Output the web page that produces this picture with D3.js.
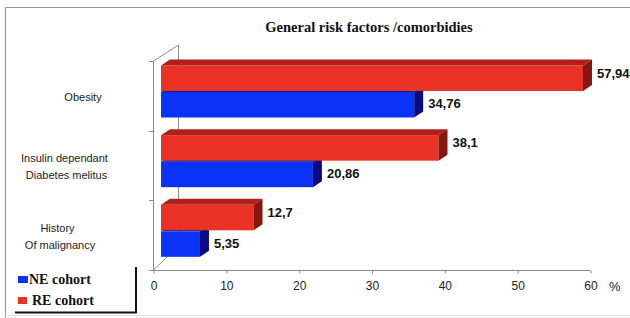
<!DOCTYPE html>
<html>
<head>
<meta charset="utf-8">
<script src="https://cdn.jsdelivr.net/npm/d3@7"></script>
<style>
  body { margin: 0; background: #fff; }
  svg { display: block; }
</style>
</head>
<body>
<script>
// chart data
var categories = ["Obesity", "Insulin", "History"];
var categoryLines = [["Obesity"], ["Insulin dependant", "Diabetes melitus"], ["History", "Of malignancy"]];
var reValues = [57.94, 38.1, 12.7];
var neValues = [34.76, 20.86, 5.35];
var reLabels = ["57,94", "38,1", "12,7"];
var neLabels = ["34,76", "20,86", "5,35"];
var tickValues = [0, 10, 20, 30, 40, 50, 60];
var legendNames = ["NE cohort", "RE cohort"];

var W = 630, H = 318;
var dx = 9, dy = 6, shift = 8, barH = 25.5;
var red = {front: "#ea3324", top: "#b0201a", side: "#861610"};
var blue = {front: "#0a32f5", top: "#0a1fa0", side: "#0a0a82"};

var svg = d3.select("body").append("svg")
    .attr("width", W)
    .attr("height", H);

// outer frame
svg.append("path")
   .attr("d", "M5.5,318 L5.5,7.5 L630,7.5")
   .attr("fill", "none")
   .attr("stroke", "#9a9a9a")
   .attr("stroke-width", 1.2);
svg.append("line")
   .attr("x1", 5).attr("x2", 630).attr("y1", 315.5).attr("y2", 315.5)
   .attr("stroke", "#e4e4e4");

// title
svg.append("text")
   .attr("x", 369).attr("y", 32)
   .attr("text-anchor", "middle")
   .style("font-family", "'Liberation Serif', 'Times New Roman', serif")
   .style("font-weight", "bold")
   .style("font-size", "14.5px")
   .attr("fill", "#111")
   .text("General risk factors /comorbidies");

// scales
var x = d3.scaleLinear().domain([0, 60]).range([153, 590]);
var y = d3.scaleBand().domain(categories).range([61, 270]).padding(0);

// left wall (3d)
var wall = svg.append("g")
    .attr("fill", "none")
    .attr("stroke", "#8a8a8a")
    .attr("stroke-width", 1);
wall.append("path").attr("d", "M153.5,61 L153.5,270 M153.5,61 L178.5,45 L178.5,246 M153.5,270 L178.5,246");
var bounds = categories.map(function(c) { return y(c); }).concat([y.range()[1]]);
wall.selectAll("line.ct")
    .data(bounds)
    .enter().append("line")
    .attr("class", "ct")
    .attr("x1", 149).attr("x2", 153.5)
    .attr("y1", function(d) { return Math.round(d) + 0.5; })
    .attr("y2", function(d) { return Math.round(d) + 0.5; });

// draws one 3d bar
function bar3d(g, v, top, col) {
    var x0 = x(0) + shift, x1 = x(v) + shift;
    g.append("rect")
     .attr("x", x0).attr("y", top)
     .attr("width", x1 - x0).attr("height", barH)
     .attr("fill", col.front);
    g.append("path")
     .attr("d", "M" + x0 + "," + top + " L" + (x0 + dx) + "," + (top - dy) +
                " L" + (x1 + dx) + "," + (top - dy) + " L" + x1 + "," + top + "Z")
     .attr("fill", col.top);
    g.append("path")
     .attr("d", "M" + x1 + "," + top + " L" + (x1 + dx) + "," + (top - dy) +
                " L" + (x1 + dx) + "," + (top - dy + barH) + " L" + x1 + "," + (top + barH) + "Z")
     .attr("fill", col.side);
}

var bars = svg.append("g");
var labelStyle = function(t) {
    t.style("font-family", "'Liberation Sans', Arial, sans-serif")
     .style("font-weight", "bold")
     .style("font-size", "13px")
     .attr("fill", "#111");
};

// NE cohort first, RE cohort on top
categories.forEach(function(c, i) {
    var redTop = y(c) + 4.5;
    bar3d(bars, neValues[i], redTop + barH + 1, blue);
});
categories.forEach(function(c, i) {
    var redTop = y(c) + 4.5;
    bar3d(bars, reValues[i], redTop, red);
});

// value labels
categories.forEach(function(c, i) {
    var redTop = y(c) + 4.5;
    bars.append("text")
        .attr("x", x(reValues[i]) + shift + dx + 5)
        .attr("y", redTop + barH / 2 - 5)
        .attr("dy", "0.35em")
        .call(labelStyle)
        .text(reLabels[i]);
    bars.append("text")
        .attr("x", x(neValues[i]) + shift + dx + 5)
        .attr("y", redTop + barH + 1 + barH / 2 - 1)
        .attr("dy", "0.35em")
        .call(labelStyle)
        .text(neLabels[i]);
});

// category labels (centre x of each line)
var catX = [[83], [64.5, 66.5], [57.5, 60]];
var cats = svg.append("g")
    .style("font-family", "'Liberation Sans', Arial, sans-serif")
    .style("font-size", "11px")
    .attr("fill", "#222")
    .attr("text-anchor", "middle");
categoryLines.forEach(function(lines, i) {
    var mid = y(categories[i]) + 36;
    lines.forEach(function(l, j) {
        cats.append("text")
            .attr("x", catX[i][j])
            .attr("y", mid + (j - (lines.length - 1) / 2) * 17)
            .attr("dy", "0.35em")
            .text(l);
    });
});

// x axis
var xAxis = d3.axisBottom(x)
    .tickValues(tickValues)
    .tickSize(3)
    .tickPadding(8)
    .tickFormat(d3.format("d"));
var ax = svg.append("g")
    .attr("transform", "translate(0.5,270.5)")
    .call(xAxis);
ax.select(".domain").attr("stroke", "#8a8a8a").attr("d", "M153,0 L590,0");
ax.selectAll(".tick line").attr("stroke", "#8a8a8a");
ax.selectAll(".tick text")
  .style("font-family", "'Liberation Sans', Arial, sans-serif")
  .style("font-size", "12px")
  .attr("fill", "#222");
svg.append("text")
   .attr("x", 609).attr("y", 291)
   .style("font-family", "'Liberation Sans', Arial, sans-serif")
   .style("font-size", "13px")
   .attr("fill", "#222")
   .text("%");

// legend
var legend = svg.append("g");
var legendCols = [blue.front, red.front];
var legendY = [279, 300];
var legendSq = [[18, 276, 10, 7], [18, 297, 9, 7]];
legendNames.forEach(function(n, i) {
    legend.append("rect")
        .attr("x", legendSq[i][0]).attr("y", legendSq[i][1])
        .attr("width", legendSq[i][2]).attr("height", legendSq[i][3])
        .attr("fill", legendCols[i]);
    legend.append("text")
        .attr("x", i === 0 ? 29 : 32)
        .attr("y", legendY[i])
        .attr("dy", "0.35em")
        .style("font-family", "'Liberation Serif', 'Times New Roman', serif")
        .style("font-weight", "bold")
        .style("font-size", "14px")
        .attr("fill", "#111")
        .text(n);
});
legend.append("path")
    .attr("d", "M136,267 L136,312.5 L15,312.5")
    .attr("fill", "none")
    .attr("stroke", "#111")
    .attr("stroke-width", 2);
</script>
</body>
</html>
